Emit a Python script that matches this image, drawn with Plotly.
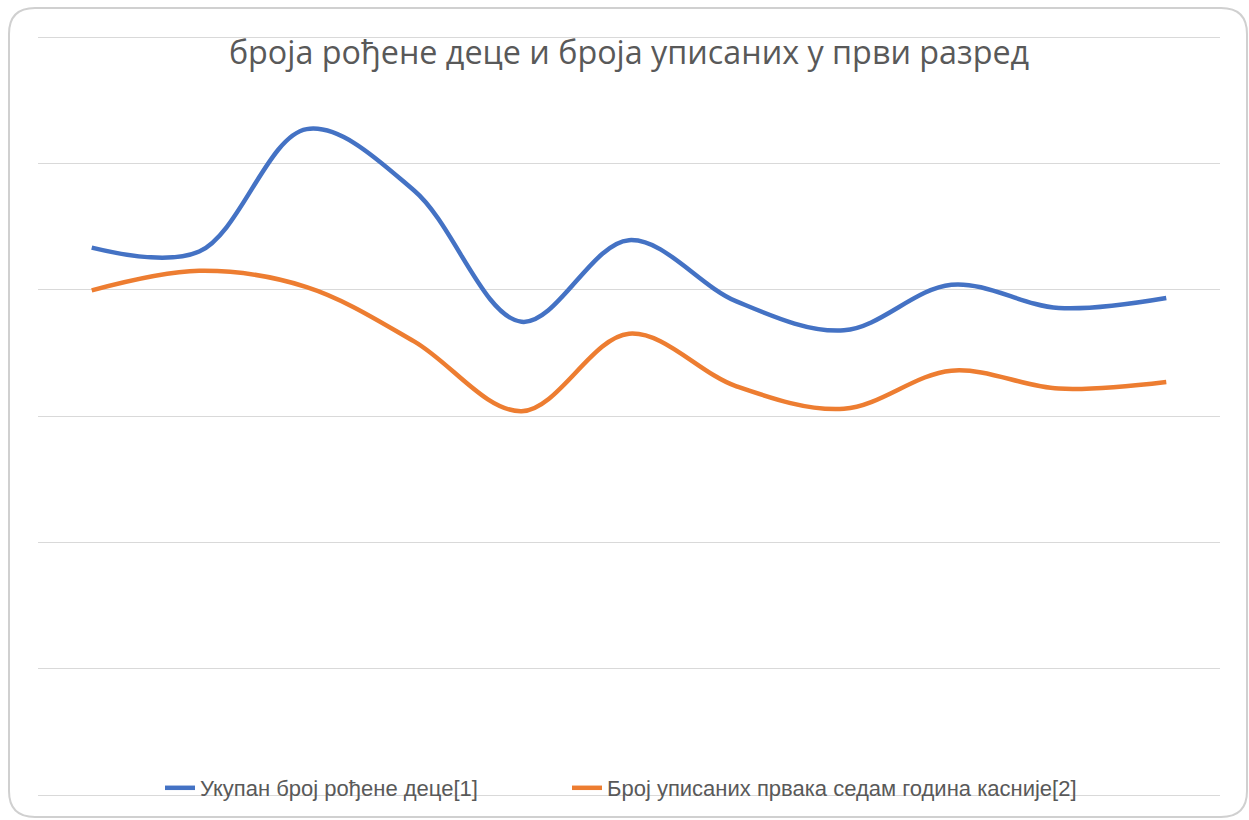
import plotly.graph_objects as go

categories = ["1", "2", "3", "4", "5", "6", "7", "8", "9", "10", "11"]
births = [4333, 4302, 5271, 4785, 3746, 4392, 3907, 3678, 4039, 3855, 3934]
first_graders = [3994, 4149, 4021, 3591, 3038, 3652, 3235, 3057, 3359, 3217, 3270]

title_text = "броја рођене деце и броја уписаних у први разред"
name_births = "Укупан број рођене деце[1]"
name_grads = "Број уписаних првака седам година касније[2]"

W, H = 1249, 820
L, R, T, B = 38, 29, 36, 24
pw, ph = W - L - R, H - T - B

def px(x):
    return (x - L) / pw

def py(y):
    return (H - B - y) / ph

fig = go.Figure()
fig.add_trace(go.Scatter(x=categories, y=births, mode="lines", name=name_births,
                         line=dict(color="#4472C4", width=4.5, shape="spline", smoothing=1.0),
                         legend="legend"))
fig.add_trace(go.Scatter(x=categories, y=first_graders, mode="lines", name=name_grads,
                         line=dict(color="#ED7D31", width=4.5, shape="spline", smoothing=1.0),
                         legend="legend2"))

# rounded outer border
x0, x1, y0, y1, r = 9, 1247, 8, 818, 26
path = (f"M {px(x0+r)},{py(y0)} L {px(x1-r)},{py(y0)} Q {px(x1)},{py(y0)} {px(x1)},{py(y0+r)} "
        f"L {px(x1)},{py(y1-r)} Q {px(x1)},{py(y1)} {px(x1-r)},{py(y1)} "
        f"L {px(x0+r)},{py(y1)} Q {px(x0)},{py(y1)} {px(x0)},{py(y1-r)} "
        f"L {px(x0)},{py(y0+r)} Q {px(x0)},{py(y0)} {px(x0+r)},{py(y0)} Z")

legend_font = dict(family="Liberation Sans", size=22, color="#595959")

fig.update_layout(
    width=W, height=H,
    margin=dict(l=L, r=R, t=T, b=B),
    paper_bgcolor="white", plot_bgcolor="white",
    title=dict(text=title_text, x=0.5, xanchor="center", xref="paper",
               y=1 - 53 / H, yanchor="middle",
               font=dict(family="Open Sans", size=32.3, color="#595959")),
    xaxis=dict(range=[-0.5, 10.5], showticklabels=False, showgrid=False, zeroline=False,
               showline=False, ticks=""),
    yaxis=dict(range=[0, 6008], dtick=1000, showticklabels=False, showgrid=True,
               gridcolor="#D9D9D9", gridwidth=1, zeroline=True, zerolinecolor="#D9D9D9",
               zerolinewidth=1, showline=False, ticks=""),
    legend=dict(orientation="h", x=px(160), xanchor="left", y=py(788), yanchor="middle",
                font=legend_font, bgcolor="rgba(0,0,0,0)"),
    legend2=dict(orientation="h", x=px(567), xanchor="left", y=py(788), yanchor="middle",
                 font=legend_font, bgcolor="rgba(0,0,0,0)"),
    shapes=[dict(type="path", path=path, xref="paper", yref="paper",
                 line=dict(color="#D0D0D0", width=2), fillcolor="rgba(0,0,0,0)", layer="below")],
    showlegend=True,
)

fig.write_html("out.html", config={"displayModeBar": False},
               post_script="document.body.style.margin='0';document.body.style.padding='0';")
